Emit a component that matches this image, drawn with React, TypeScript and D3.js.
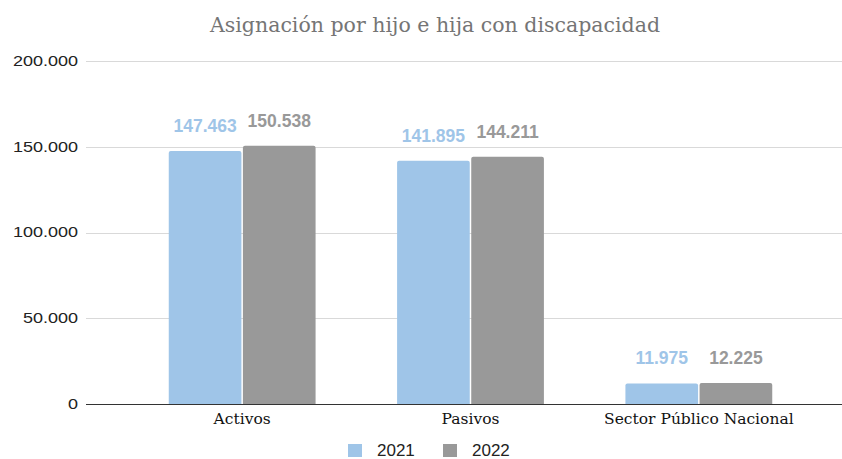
import React from "react";
import * as d3 from "d3";

const categories = ["Activos", "Pasivos", "Sector Público Nacional"];
const seriesNames = ["2021", "2022"];
const values2021 = [147463, 141895, 11975];
const values2022 = [150538, 144211, 12225];
const yTicks = [0, 50000, 100000, 150000, 200000];
const title = "Asignación por hijo e hija con discapacidad";
const colors = ["#9fc5e8", "#999999"];

const W = 842;
const H = 459;

const fmt = (v: number) => d3.format(",")(v).replace(/,/g, ".");

export default function App() {
  const series = [values2021, values2022];
  const y = d3.scaleLinear().domain([0, 200000]).range([404, 61]);
  const x0 = d3
    .scaleBand<string>()
    .domain(categories)
    .range([128, 813])
    .paddingInner(0.357)
    .paddingOuter(0.1785);
  const x1 = d3
    .scaleBand<string>()
    .domain(seriesNames)
    .range([0, x0.bandwidth()])
    .paddingInner(0.02);
  const sans = "Arial, 'Liberation Sans', sans-serif";
  const serif = "DejaVu Serif";
  const legendX = d3.scalePoint<string>().domain(seriesNames).range([348, 443]);

  return (
    <svg width={W} height={H} style={{ position: "absolute", left: 0, top: 0, background: "#fff" }}>
      <rect x={0} y={0} width={W} height={H} fill="#fff" />
      <text x={435} y={32} textAnchor="middle" fontFamily={serif} fontSize={20.5} fill="#757575">
        {title}
      </text>
      {yTicks.map((t) => (
        <g key={t}>
          <line x1={86} x2={W} y1={Math.round(y(t)) + 0.5} y2={Math.round(y(t)) + 0.5} stroke={t === 0 ? "#333" : "#d9d9d9"} strokeWidth={1} />
          <text x={78} y={y(t) + 5} textAnchor="end" fontFamily={sans} fontSize={15} fill="#222"
            transform={`translate(78,0) scale(1.2,1) translate(-78,0)`}>
            {fmt(t)}
          </text>
        </g>
      ))}
      {categories.map((c, i) => (
        <g key={c} transform={`translate(${x0(c)},0)`}>
          {series.map((vals, s) => {
            const bx = x1(seriesNames[s])!;
            const bw = x1.bandwidth();
            const top = y(vals[i]);
            const h = y(0) - top;
            const r = 2;
            const path = `M${bx},${y(0)} V${top + r} Q${bx},${top} ${bx + r},${top} H${bx + bw - r} Q${bx + bw},${top} ${bx + bw},${top + r} V${y(0)} Z`;
            return (
              <g key={s}>
                {h > 0 && <path d={path} fill={colors[s]} />}
                <text x={bx + bw / 2} y={top - 19} textAnchor="middle" fontFamily={sans} fontWeight="bold" fontSize={17.5} fill={colors[s]}>
                  {fmt(vals[i])}
                </text>
              </g>
            );
          })}
          <text x={x0.bandwidth() / 2} y={424} textAnchor="middle" fontFamily={serif} fontSize={15.5} fill="#111">
            {c}
          </text>
        </g>
      ))}
      {seriesNames.map((s, i) => (
        <g key={s} transform={`translate(${legendX(s)},0)`}>
          <rect x={0} y={444} width={14} height={13} fill={colors[i]} />
          <text x={29} y={456} fontFamily={sans} fontSize={17} fill="#222">
            {s}
          </text>
        </g>
      ))}
    </svg>
  );
}
